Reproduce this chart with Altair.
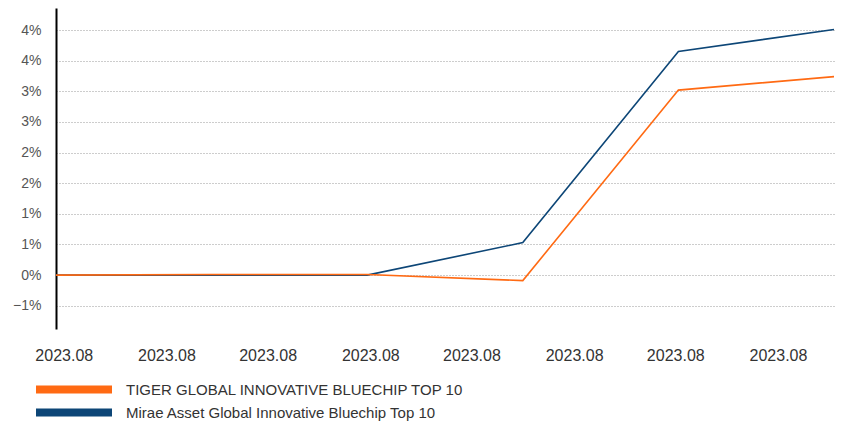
import altair as alt
import pandas as pd

series_names = [
    "TIGER GLOBAL INNOVATIVE BLUECHIP TOP 10",
    "Mirae Asset Global Innovative Bluechip Top 10",
]
x_index = [0, 1, 2, 3, 4, 5]
tiger_values = [0.0, 0.0001, 0.0001, -0.0009, 0.0302, 0.0324]
mirae_values = [0.0, 0.0, 0.0, 0.0053, 0.0365, 0.0401]
x_tick_values = [0.05, 0.71, 1.36, 2.02, 2.67, 3.33, 3.98, 4.64]
x_tick_text = "2023.08"
y_tick_values = [-0.005, 0.0, 0.005, 0.01, 0.015, 0.02, 0.025, 0.03, 0.035, 0.04]
series_colors = ["#ff6a13", "#0d4677"]

df = pd.DataFrame({
    "x": x_index + x_index,
    "y": tiger_values + mirae_values,
    "series": [series_names[0]] * len(x_index) + [series_names[1]] * len(x_index),
})

# legend swatch: two overlapping thick strokes forming a solid bar
bar_path = "M-19,-0.9H19M-19,0.9H19"

color = alt.Color(
    "series:N",
    scale=alt.Scale(domain=series_names, range=series_colors),
    legend=alt.Legend(
        title=None,
        orient="none",
        legendX=10.5,
        legendY=374,
        direction="vertical",
        symbolType=bar_path,
        symbolSize=16,
        symbolStrokeWidth=4.4,
        symbolOpacity=1,
        labelFontSize=15,
        labelColor="#333333",
        labelFont="Liberation Sans",
        labelOffset=44.5,
        labelLimit=600,
        rowPadding=0,
    ),
)

x_enc = alt.X(
    "x:Q",
    scale=alt.Scale(domain=[0, 5], nice=False, zero=False),
    axis=alt.Axis(
        title=None,
        values=x_tick_values,
        labelExpr=f"'{x_tick_text}'",
        domain=False,
        ticks=False,
        grid=False,
        labelFontSize=16,
        labelColor="#333333",
        labelFont="Liberation Sans",
        labelPadding=18,
    ),
)
y_enc = alt.Y(
    "y:Q",
    scale=alt.Scale(domain=[-0.0088, 0.0436], nice=False, zero=False),
    axis=alt.Axis(
        title=None,
        values=y_tick_values,
        format=".0%",
        domain=True,
        domainColor="#000000",
        domainWidth=2,
        ticks=False,
        grid=True,
        gridColor="#9a9a9a",
        gridDash=[1, 2],
        gridWidth=1,
        labelFontSize=14,
        labelColor="#555555",
        labelFont="Liberation Sans",
        labelPadding=15,
    ),
)

mirae_layer = alt.Chart(df).mark_line(strokeWidth=1.6).encode(
    x=x_enc, y=y_enc, color=color
).transform_filter(alt.datum.series == series_names[1])
tiger_layer = alt.Chart(df).mark_line(strokeWidth=1.6).encode(
    x=x_enc, y=y_enc, color=color
).transform_filter(alt.datum.series == series_names[0])

chart = alt.layer(mirae_layer, tiger_layer).properties(
    width=778,
    height=321,
    autosize=alt.AutoSizeParams(type="none"),
    padding={"left": 48, "top": 0, "right": 2, "bottom": 92},
).configure_view(stroke=None)

chart.save("out.html", embed_options={"renderer": "svg", "actions": False})
